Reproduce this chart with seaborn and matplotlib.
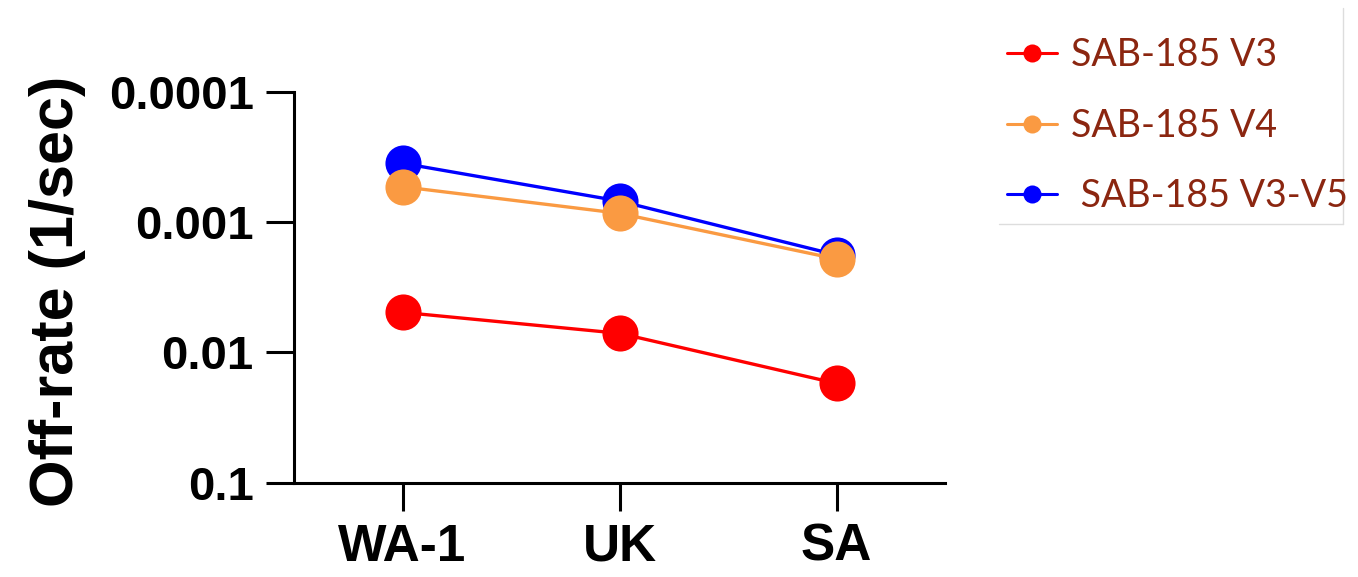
import matplotlib
matplotlib.use("Agg")
import matplotlib.pyplot as plt
from matplotlib.lines import Line2D
from matplotlib.ticker import FixedLocator, FixedFormatter, NullLocator
import seaborn as sns
import pandas as pd

# Dissociation rates per variant, one list per antibody construct
variants = ["WA-1", "UK", "SA"]
v3 = [0.00493, 0.00714, 0.0173]
v4 = [0.000536, 0.000857, 0.00192]
v3_v5 = [0.000354, 0.00069, 0.00179]

series_names = ["SAB-185 V3", "SAB-185 V4", "SAB-185 V3-V5"]
legend_labels = ["SAB-185 V3", "SAB-185 V4", " SAB-185 V3-V5"]
colors = {"SAB-185 V3": "#FF0000", "SAB-185 V4": "#FA9A42", "SAB-185 V3-V5": "#0000FF"}

ytick_values = [0.0001, 0.001, 0.01, 0.1]
ytick_labels = ["0.0001", "0.001", "0.01", "0.1"]

rows = []
for name, vals in zip(series_names, [v3, v4, v3_v5]):
    for variant, val in zip(variants, vals):
        rows.append({"variant": variant, "rate": val, "antibody": name})
df = pd.DataFrame(rows)

sns.set_style("white")
plt.rcParams["font.family"] = ["Liberation Sans", "DejaVu Sans"]
plt.rcParams["text.color"] = "black"
plt.rcParams["axes.labelcolor"] = "black"
plt.rcParams["xtick.color"] = "black"
plt.rcParams["ytick.color"] = "black"

fig = plt.figure(figsize=(13.58, 5.77), dpi=100)
ax = fig.add_axes([0.2165, 0.1634, 0.4795, 0.6776])

# draw order: red, blue, then orange so orange markers sit on top
draw_order = ["SAB-185 V3", "SAB-185 V3-V5", "SAB-185 V4"]
sns.lineplot(data=df, x="variant", y="rate", hue="antibody", hue_order=draw_order,
             palette=colors, marker="o", markersize=26, markeredgewidth=0,
             linewidth=2.4, sort=False, legend=False, ax=ax)

ax.set_yscale("log")
ax.set_ylim(0.1, 0.0001)
ax.yaxis.set_major_locator(FixedLocator(ytick_values))
ax.yaxis.set_major_formatter(FixedFormatter(ytick_labels))
ax.yaxis.set_minor_locator(NullLocator())
ax.set_xlim(-0.5, 2.5)

for side in ["top", "right"]:
    ax.spines[side].set_visible(False)
for side in ["left", "bottom"]:
    ax.spines[side].set_linewidth(2.2)
    ax.spines[side].set_color("black")

ax.tick_params(axis="both", which="major", direction="out", length=20, width=2.2,
               color="black", labelcolor="black", left=True, bottom=True)
ax.tick_params(axis="y", pad=9, labelsize=34)
ax.tick_params(axis="x", pad=9, labelsize=37)
for lab in ax.get_yticklabels() + ax.get_xticklabels():
    lab.set_fontweight("bold")

ax.set_xlabel("")
ax.set_ylabel("Off-rate (1/sec)", fontsize=44, fontweight="bold", color="black")
ax.yaxis.set_label_coords(-0.32, 0.489)

# legend on the right with its own text style
handles = [Line2D([0], [0], color=colors[n], marker="o", markersize=13,
                  markeredgewidth=0, linewidth=2.2) for n in series_names]
fig.legend(handles, legend_labels, loc="upper left", bbox_to_anchor=(0.7165, 0.994),
           frameon=False, labelcolor="#8B2610", handlelength=1.35,
           handletextpad=0.35, labelspacing=0.92, prop={"family": "Lato", "size": 27})

# light frame edges on the right and bottom of the legend area
fig.add_artist(Line2D([0.9889, 0.9889], [0.612, 0.986], transform=fig.transFigure,
                      color="#DDDDDD", linewidth=1))
fig.add_artist(Line2D([0.7356, 0.9889], [0.612, 0.612], transform=fig.transFigure,
                      color="#DDDDDD", linewidth=1))

fig.savefig("out.png", dpi=100, facecolor="white")
